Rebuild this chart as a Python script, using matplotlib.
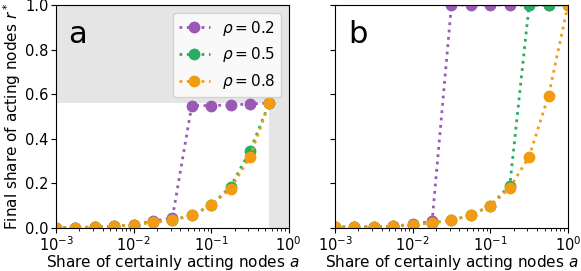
import numpy as np
import matplotlib
matplotlib.use("Agg")
import matplotlib.pyplot as plt

# ---------- Data ----------
a_vals = [0.001, 0.00178, 0.00316, 0.00562, 0.01, 0.0178, 0.0316, 0.0562, 0.1, 0.178, 0.316, 0.562, 1.0]
rhos = ["0.2", "0.5", "0.8"]
colors = ["#9b59b6", "#27ae60", "#f39c12"]

# panel a (no point at a = 1)
a_r02 = [0.0, 0.002, 0.004, 0.008, 0.015, 0.03, 0.045, 0.549, 0.549, 0.552, 0.556, 0.561]
a_r05 = [0.0, 0.002, 0.004, 0.008, 0.015, 0.026, 0.035, 0.057, 0.102, 0.185, 0.345, 0.561]
a_r08 = [0.0, 0.002, 0.004, 0.008, 0.015, 0.026, 0.035, 0.057, 0.102, 0.177, 0.32, 0.561]

# panel b
b_r02 = [0.005, 0.004, 0.005, 0.008, 0.017, 0.03, 1.0, 1.0, 1.0, 1.0, 1.0, 1.0, 1.0]
b_r05 = [0.005, 0.004, 0.005, 0.008, 0.015, 0.023, 0.035, 0.057, 0.10, 0.19, 1.0, 1.0, 1.0]
b_r08 = [0.005, 0.004, 0.005, 0.008, 0.015, 0.023, 0.035, 0.057, 0.10, 0.18, 0.32, 0.594, 1.0]

r_max = 0.562

plt.rcParams["font.size"] = 11
plt.rcParams["xtick.labelsize"] = 10.5
plt.rcParams["ytick.labelsize"] = 10.5
plt.rcParams["xtick.major.pad"] = 1.5
plt.rcParams["ytick.major.pad"] = 2

fig = plt.figure(figsize=(5.81, 2.71), dpi=100)
ax1 = fig.add_axes([0.0964, 0.1587, 0.4006, 0.8228])
ax2 = fig.add_axes([0.5766, 0.1587, 0.4010, 0.8228])

# ---------- Panel a ----------
gray = "#e5e5e5"
ax1.axhspan(r_max, 1.0, color=gray, lw=0, zorder=0)
ax1.fill_between([r_max, 1.0], 0, r_max, color=gray, lw=0, zorder=0)
for ys, c, rho in zip([a_r02, a_r05, a_r08], colors, rhos):
    ax1.plot(a_vals[:len(ys)], ys, ":", color=c, marker="o", ms=7.5, lw=2,
             label=r"$\rho = %s$" % rho)
ax1.legend(loc="upper right", fontsize=11, borderaxespad=0.5)
ax1.text(0.05, 0.83, "a", transform=ax1.transAxes, fontsize=22, va="baseline")

# ---------- Panel b ----------
for ys, c in zip([b_r02, b_r05, b_r08], colors):
    ax2.plot(a_vals, ys, ":", color=c, marker="o", ms=7.5, lw=2)
ax2.text(0.056, 0.83, "b", transform=ax2.transAxes, fontsize=22, va="baseline")

for ax in (ax1, ax2):
    ax.set_xscale("log")
    ax.set_xlim(1e-3, 1)
    ax.set_ylim(0, 1)
    ax.set_yticks([0, 0.2, 0.4, 0.6, 0.8, 1.0])
    ax.set_xlabel("Share of certainly acting nodes $a$", labelpad=-0.5)
ax1.set_ylabel("Final share of acting nodes $r^*$", labelpad=1)
ax2.set_yticklabels([])

fig.savefig("out.png", dpi=100)
